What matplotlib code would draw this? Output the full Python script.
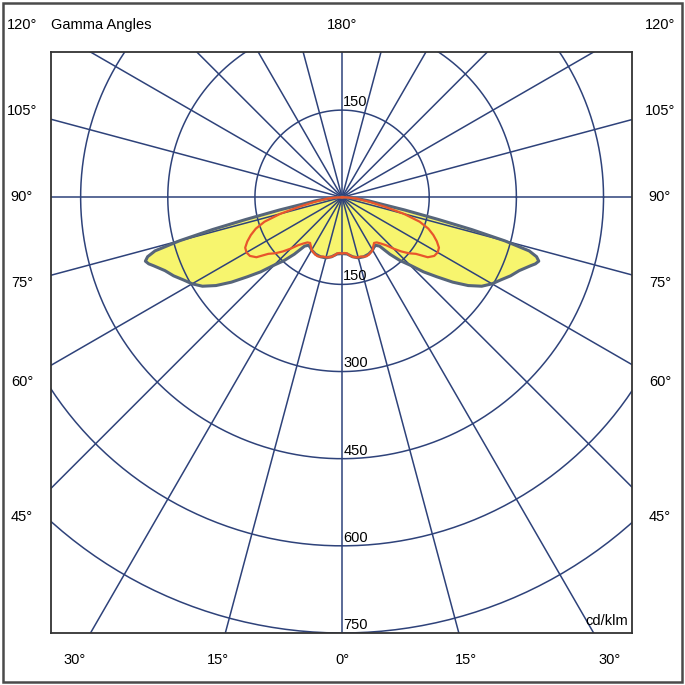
import numpy as np
import matplotlib
matplotlib.use("Agg")
import matplotlib.pyplot as plt
from matplotlib.patches import Rectangle

plt.rcParams['font.family'] = ['Liberation Sans', 'DejaVu Sans']

# gamma angle (deg from nadir) -> intensity cd/klm, half curve, mirrored for the other side
gamma_yellow = [0, 5, 10, 15, 20, 25, 30, 32.5, 35, 37.5, 40, 42.5, 45, 47.5, 50, 52.5, 55,
                57.5, 60, 62.5, 65, 67.5, 70, 71, 72, 73, 74, 75, 76, 77, 78.5, 80, 82.5,
                85, 87.5, 90]
int_yellow = [97, 98, 104, 108, 109, 108, 105, 102, 101, 106, 128, 148, 165, 190, 213, 240, 265,
              285, 298, 308, 320, 330, 345, 352, 356, 350, 335, 290, 230, 170, 110, 70, 45,
              25, 8, 0]

gamma_red = [0, 2.5, 5, 7.5, 10, 12.5, 15, 17.5, 20, 22.5, 25, 27.5, 30, 32.5, 35, 37.5, 40,
             42.5, 45, 47.5, 50, 52.5, 55, 57.5, 60, 62.5, 65, 67.5, 70, 72.5, 75, 77.5, 80,
             85, 87.5, 90]
int_red = [97, 96, 97, 101, 104, 106, 107, 107, 109, 110, 109, 107, 105, 100, 96, 98, 104,
           112, 125, 138, 150, 160, 180, 188, 190, 188, 180, 170, 158, 140, 110, 75, 50,
           25, 10, 0]

rings = [150, 300, 450, 600, 750]
spokes = np.arange(0, 360, 15)
side_labels = [45, 60, 75, 90, 105, 120]
bottom_labels = [0, 15, 30]

grid_col = '#2e427a'
edge_col = '#56657a'
fill_col = '#f7f56e'
red_col = '#e8552c'


def full_curve(g, v):
    g = np.array(g, dtype=float)
    v = np.array(v, dtype=float)
    gg = np.concatenate([-g[::-1], g[1:]])
    vv = np.concatenate([v[::-1], v[1:]])
    x = vv * np.sin(np.radians(gg))
    y = -vv * np.cos(np.radians(gg))
    return x, y


fig = plt.figure(figsize=(6.85, 6.85), dpi=100)
fig.patches.append(Rectangle((0.004, 0.004), 0.992, 0.992, transform=fig.transFigure,
                             fill=False, edgecolor='#4a4a4a', linewidth=1.8))

ax = fig.add_axes([51 / 685, 52 / 685, 581 / 685, 581 / 685])
ax.set_xlim(-501, 499)
ax.set_ylim(-750, 250)
ax.set_aspect('equal')
ax.set_xticks([])
ax.set_yticks([])
for s in ax.spines.values():
    s.set_color('#333333')
    s.set_linewidth(1.3)

# yellow curve fill (grid drawn over it)
xy, yy = full_curve(gamma_yellow, int_yellow)
ax.fill(xy, yy, color=fill_col, zorder=1, linewidth=0)

# grid
t = np.linspace(0, 2 * np.pi, 400)
for r in rings:
    ax.plot(r * np.cos(t), r * np.sin(t), color=grid_col, lw=1.1, zorder=2)
for a in spokes:
    ax.plot([0, 1500 * np.sin(np.radians(a))], [0, -1500 * np.cos(np.radians(a))],
            color=grid_col, lw=1.1, zorder=2)

ax.plot(xy, yy, color=edge_col, lw=2.2, zorder=3, solid_joinstyle='round')
xr, yr = full_curve(gamma_red, int_red)
ax.plot(xr, yr, color=red_col, lw=1.6, zorder=4, solid_joinstyle='round')

# ring labels
fs = 10.5
ax.text(2, rings[0] + 2, str(rings[0]), fontsize=fs, ha='left', va='bottom', zorder=5)
for r in rings:
    ax.text(2, -r + 2, str(r), fontsize=fs, ha='left', va='bottom', zorder=5)
ax.text(492, -742, 'cd/klm', fontsize=fs, ha='right', va='bottom', zorder=5)

# angle labels outside the box, placed along each spoke
xl, xrt, yt, yb = -551, 547, 296, -797
for g in side_labels:
    yv = -551 / np.tan(np.radians(g)) if g != 90 else 0
    yv = min(yv, yt)
    for xv in (xl, xrt):
        ax.text(xv, yv, f'{g}°', fontsize=fs, ha='center', va='center', clip_on=False)
for g in bottom_labels:
    xv = 797 * np.tan(np.radians(g))
    ax.text(-xv, yb, f'{g}°', fontsize=fs, ha='center', va='center', clip_on=False)
    if g > 0:
        ax.text(xv, yb, f'{g}°', fontsize=fs, ha='center', va='center', clip_on=False)
ax.text(0, yt, '180°', fontsize=fs, ha='center', va='center', clip_on=False)
ax.text(-501, yt, 'Gamma Angles', fontsize=fs, ha='left', va='center', clip_on=False)

fig.savefig('out.png', dpi=100)
